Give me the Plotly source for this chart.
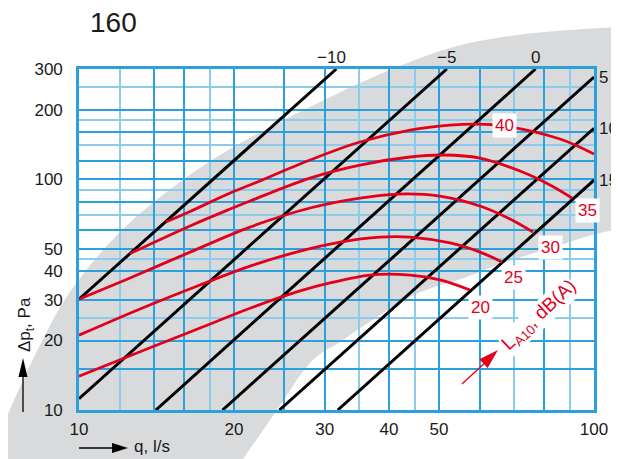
import math
import plotly.graph_objects as go

# ---------------- data ----------------
q_grid_major = [10, 14, 16, 20, 25, 30, 40, 50, 60, 80, 100]
q_grid_minor = [12, 18, 35, 45, 70, 90]
q_tick_text = {10: "10", 20: "20", 30: "30", 40: "40", 50: "50", 100: "100"}

dp_grid_major = [10, 15, 20, 30, 40, 50, 60, 80, 100, 120, 160, 200, 300]
dp_grid_minor = [25, 45, 70, 90, 140, 180, 250]
dp_tick_text = {10: "10", 20: "20", 30: "30", 40: "40", 50: "50",
                100: "100", 200: "200", 300: "300"}

# damper-setting lines (straight lines in log-log), end points
damper_labels = ["\u221210", "\u22125", "0", "5", "10", "15"]
damper_q = [[10, 31.6], [10, 51.8], [14.1, 77.0], [19.0, 100], [24.5, 100], [31.8, 100]]
damper_dp = [[30.2, 300], [11.2, 300], [10, 300], [10, 277], [10, 166], [10, 99]]

# sound level curves L_A10, dB(A)
level_labels = ["40", "35", "30", "25", "20"]
q_40 = [14.75, 16.43, 19.65, 21.48, 28.09, 35.13, 43.93, 52.52, 59.26, 66.9, 85.89, 100]
dp_40 = [65.2, 72.4, 87.1, 94.3, 121.0, 144.8, 163.2, 171.5, 173.2, 170.0, 149.2, 128.4]
q_35 = [12.56, 16.43, 19.65, 21.48, 28.09, 35.13, 43.93, 50.90, 60.06, 71.82, 82.13, 90.64]
dp_35 = [47.6, 62.7, 74.2, 80.4, 101.1, 115.1, 124.7, 127.2, 123.4, 108.4, 94.3, 82.8]
q_30 = [10, 12.56, 16.43, 21.48, 28.09, 35.13, 41.45, 50.22, 60.06, 68.68, 76.12]
dp_30 = [30.2, 37.3, 48.3, 62.0, 75.0, 82.8, 86.2, 84.5, 76.5, 67.2, 59.0]
q_25 = [10, 13.14, 17.18, 21.48, 26.87, 32.13, 38.42, 43.93, 52.52, 60.06, 66.27]
dp_25 = [21.1, 27.4, 34.8, 42.0, 48.8, 53.4, 56.1, 56.1, 52.9, 48.3, 43.8]
q_20 = [10, 13.74, 17.18, 21.48, 26.87, 30.72, 36.74, 43.93, 50.22, 57.43]
dp_20 = [14.0, 18.6, 22.65, 27.6, 32.8, 35.5, 38.4, 38.4, 36.6, 33.1]
level_q = [q_40, q_35, q_30, q_25, q_20]
level_dp = [dp_40, dp_35, dp_30, dp_25, dp_20]

# ---------------- styling ----------------
W, H = 619, 459
OFF = 8                      # page body margin of the html page
PX0, PY0, PW, PH = 79, 69, 515, 341   # plot area in page pixels
ML, MT = PX0 - OFF, PY0 - OFF
MR, MB = W - ML - PW, H - MT - PH
DARK = "#2ba0da"
LIGHT = "#8ccbec"
RED = "#e2001a"
GRAY = "#d9dadc"
FONT = "Liberation Sans, Arial, sans-serif"
TXT = "#1a1a1a"


def P(x, y):
    """page pixel -> paper coordinates"""
    return ((x - PX0) / PW, (PY0 + PH - y) / PH)


def smooth_path(pts):
    s = ""
    n = len(pts)
    for i in range(n - 1):
        p0 = pts[max(i - 1, 0)]
        p1 = pts[i]
        p2 = pts[i + 1]
        p3 = pts[min(i + 2, n - 1)]
        c1 = (p1[0] + (p2[0] - p0[0]) / 6, p1[1] + (p2[1] - p0[1]) / 6)
        c2 = (p2[0] - (p3[0] - p1[0]) / 6, p2[1] - (p3[1] - p1[1]) / 6)
        a, b, c = P(*c1), P(*c2), P(*p2)
        s += f" C {a[0]:.4f},{a[1]:.4f} {b[0]:.4f},{b[1]:.4f} {c[0]:.4f},{c[1]:.4f}"
    return s


band_upper = [(-20, 480), (0, 432), (35, 355), (70, 292), (120, 232), (180, 182),
              (237, 145), (310, 107), (380, 74), (450, 48), (510, 36), (570, 30), (640, 26)]
band_lower = [(640, 226), (600, 233), (560, 245), (500, 264), (467, 277), (410, 297),
              (343, 340), (310, 363), (277, 410), (243, 459), (228, 480)]

p0 = P(*band_upper[0])
band_path = f"M {p0[0]:.4f},{p0[1]:.4f}" + smooth_path(band_upper)
pl = P(*band_lower[0])
band_path += f" L {pl[0]:.4f},{pl[1]:.4f}" + smooth_path(band_lower) + " Z"

fig = go.Figure()

for qs, dps in zip(damper_q, damper_dp):
    fig.add_trace(go.Scatter(x=qs, y=dps, mode="lines",
                             line=dict(color="black", width=3),
                             hoverinfo="skip", showlegend=False))

for qs, dps in zip(level_q, level_dp):
    fig.add_trace(go.Scatter(x=qs, y=dps, mode="lines",
                             line=dict(color=RED, width=2.8, shape="spline", smoothing=1.0),
                             hoverinfo="skip", showlegend=False))

shapes = [dict(type="path", path=band_path, xref="paper", yref="paper",
               fillcolor=GRAY, line=dict(width=0), layer="below")]


def line_shape(a, b, color, width):
    pa, pb = P(*a), P(*b)
    return dict(type="line", xref="paper", yref="paper", x0=pa[0], y0=pa[1],
                x1=pb[0], y1=pb[1], line=dict(color=color, width=width), layer="above")


def tri_shape(tail, tip, length, half, color):
    dx, dy = tip[0] - tail[0], tip[1] - tail[1]
    d = math.hypot(dx, dy)
    ux, uy = dx / d, dy / d
    bx, by = tip[0] - ux * length, tip[1] - uy * length
    p1 = P(bx - uy * half, by + ux * half)
    p2 = P(bx + uy * half, by - ux * half)
    pt = P(*tip)
    path = f"M {pt[0]:.4f},{pt[1]:.4f} L {p1[0]:.4f},{p1[1]:.4f} L {p2[0]:.4f},{p2[1]:.4f} Z"
    return dict(type="path", path=path, xref="paper", yref="paper",
                fillcolor=color, line=dict(width=0), layer="above")


# axis arrows
shapes.append(line_shape((23, 412), (23, 372), "black", 1.3))
shapes.append(tri_shape((23, 412), (23, 358), 19, 4.5, "black"))
shapes.append(line_shape((79, 448), (114, 448), "black", 1.3))
shapes.append(tri_shape((79, 448), (128, 448), 16, 5, "black"))
# red arrow
shapes.append(line_shape((462, 384), (488, 360), RED, 1.3))
shapes.append(tri_shape((462, 384), (498, 350), 20, 6, RED))

ann = []
# title
t = P(113, 23)
ann.append(dict(text="160", x=t[0], y=t[1], xref="paper", yref="paper", showarrow=False,
                font=dict(size=28, color=TXT, family=FONT), xanchor="center", yanchor="middle"))
# axis titles
t = P(26, 325)
ann.append(dict(text="\u0394p<sub>t</sub>, Pa", x=t[0], y=t[1], xref="paper", yref="paper",
                showarrow=False, textangle=-90, font=dict(size=17, color=TXT, family=FONT),
                xanchor="center", yanchor="middle"))
t = P(132, 447)
ann.append(dict(text="q, l/s", x=t[0], y=t[1], xref="paper", yref="paper", showarrow=False,
                font=dict(size=17, color=TXT, family=FONT), xanchor="left", yanchor="middle"))
# rotated level caption
t = P(539, 316)
ann.append(dict(text="L<sub>A10</sub>, dB(A)", x=t[0], y=t[1], xref="paper", yref="paper",
                showarrow=False, textangle=-43, font=dict(size=19, color=RED, family=FONT),
                xanchor="center", yanchor="middle", bgcolor="white", borderpad=0))

# damper labels
top_shift = {"\u221210": -5}
for lab, qs, dps in zip(damper_labels, damper_q, damper_dp):
    if dps[1] >= 300:
        ann.append(dict(text=lab, x=math.log10(qs[1]), y=math.log10(dps[1]), xref="x", yref="y",
                        showarrow=False, yshift=12, xshift=top_shift.get(lab, 0),
                        xanchor="center", yanchor="middle",
                        font=dict(size=17, color=TXT, family=FONT)))
    else:
        ann.append(dict(text=lab, x=math.log10(qs[1]), y=math.log10(dps[1]), xref="x", yref="y",
                        showarrow=False, xshift=3, xanchor="left", yanchor="middle",
                        font=dict(size=17, color=TXT, family=FONT)))

# level labels
lab_pos = {"40": (9, 0, 0), "35": (-1, 15, -12), "30": (-1, 18, -15),
           "25": (-1, 12, -16), "20": (-1, 11, -17)}
for lab, qs, dps in zip(level_labels, level_q, level_dp):
    idx, xs, ys = lab_pos[lab]
    ann.append(dict(text=lab, x=math.log10(qs[idx]), y=math.log10(dps[idx]), xref="x", yref="y",
                    showarrow=False, xshift=xs, yshift=ys, xanchor="center", yanchor="middle",
                    bgcolor="white", borderpad=2,
                    font=dict(size=17, color=RED, family=FONT)))

fig.update_layout(
    width=W, height=H,
    margin=dict(l=ML, r=MR, t=MT, b=MB, pad=0, autoexpand=False),
    paper_bgcolor="white", plot_bgcolor="rgba(0,0,0,0)",
    font=dict(family=FONT, size=17, color=TXT),
    shapes=shapes, annotations=ann, showlegend=False,
    xaxis=dict(type="log", range=[1, 2], tickmode="array", tickvals=q_grid_major,
               ticktext=[q_tick_text.get(v, "") for v in q_grid_major],
               showgrid=True, gridcolor=DARK, gridwidth=1.6,
               minor=dict(tickmode="array", tickvals=q_grid_minor, showgrid=True,
                          gridcolor=LIGHT, gridwidth=1.6, ticks=""),
               showline=True, linecolor=DARK, linewidth=2.6, mirror=True,
               ticks="", zeroline=False, ticklabelstandoff=2, automargin=False,
               tickfont=dict(size=17, color=TXT, family=FONT)),
    yaxis=dict(type="log", range=[1, math.log10(300)], tickmode="array", tickvals=dp_grid_major,
               ticktext=[dp_tick_text.get(v, "") for v in dp_grid_major],
               showgrid=True, gridcolor=DARK, gridwidth=1.6,
               minor=dict(tickmode="array", tickvals=dp_grid_minor, showgrid=True,
                          gridcolor=LIGHT, gridwidth=1.6, ticks=""),
               showline=True, linecolor=DARK, linewidth=2.6, mirror=True,
               ticks="", zeroline=False, ticklabelstandoff=10, automargin=False,
               tickfont=dict(size=17, color=TXT, family=FONT)),
)

fig.write_html("out.html")
